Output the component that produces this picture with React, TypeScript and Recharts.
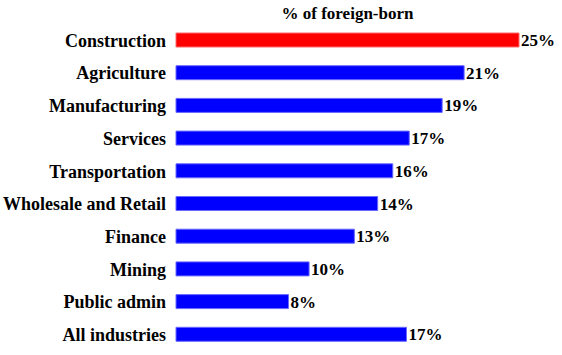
import { BarChart, Bar, Cell, XAxis, YAxis, LabelList } from "recharts";

const industries = [
	"Construction",
	"Agriculture",
	"Manufacturing",
	"Services",
	"Transportation",
	"Wholesale and Retail",
	"Finance",
	"Mining",
	"Public admin",
	"All industries",
];

// share of foreign-born workers
const shares = [25, 21, 19.4, 17, 15.8, 14.7, 13, 9.7, 8.2, 16.8];

const shareLabels = ["25%", "21%", "19%", "17%", "16%", "14%", "13%", "10%", "8%", "17%"];

const barColors = ["#ff0000", "#0000ff", "#0000ff", "#0000ff", "#0000ff", "#0000ff", "#0000ff", "#0000ff", "#0000ff", "#0000ff"];
const barEdges = ["#ff6a6a", "#6a6aff", "#6a6aff", "#6a6aff", "#6a6aff", "#6a6aff", "#6a6aff", "#6a6aff", "#6a6aff", "#6a6aff"];

const serif = '"Liberation Serif", "Times New Roman", serif';

const chartData = industries.map((name, i) => ({
	name,
	share: shares[i],
	label: shareLabels[i],
}));

export default function App() {
	return (
		<div
			style={{
				position: "absolute",
				left: 0,
				top: 0,
				width: 562,
				height: 355,
				background: "#fff",
				fontFamily: serif,
			}}
		>
			<div
				style={{
					position: "absolute",
					left: 176,
					width: 343,
					top: 4,
					textAlign: "center",
					fontWeight: "bold",
					fontSize: 17,
					color: "#000",
				}}
			>
				% of foreign-born
			</div>
			<BarChart
				width={562}
				height={355}
				data={chartData}
				layout="vertical"
				margin={{ top: 24, right: 43, bottom: 4, left: 0 }}
			>
				<XAxis type="number" domain={[0, 25]} hide />
				<YAxis
					type="category"
					dataKey="name"
					width={176}
					axisLine={false}
					tickLine={false}
					tickMargin={4}
					interval={0}
					tick={{
						fontSize: 18,
						fontWeight: "bold",
						fontFamily: serif,
						fill: "#000",
					}}
				/>
				<Bar dataKey="share" barSize={14} strokeWidth={1} isAnimationActive={false}>
					{chartData.map((_, i) => (
						<Cell key={`cell-${i}`} fill={barColors[i]} stroke={barEdges[i]} />
					))}
					<LabelList
						dataKey="label"
						position="right"
						offset={2}
						style={{
							fontSize: 17,
							fontWeight: "bold",
							fontFamily: serif,
							fill: "#000",
						}}
					/>
				</Bar>
			</BarChart>
		</div>
	);
}
